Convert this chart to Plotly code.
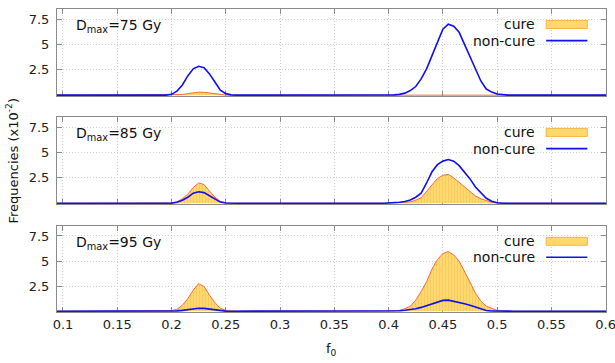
import plotly.graph_objects as go

# f0 bin centres around the two peaks (histogram is empty elsewhere)
F0_LOW = [0.195, 0.200, 0.205, 0.210, 0.215, 0.220, 0.225, 0.230, 0.235,
          0.240, 0.245, 0.250, 0.255, 0.260]
F0_HIGH = [0.395, 0.400, 0.405, 0.410, 0.415, 0.420, 0.425, 0.430, 0.435,
           0.440, 0.445, 0.450, 0.455, 0.460, 0.465, 0.470, 0.475, 0.480,
           0.485, 0.490, 0.495, 0.500, 0.505, 0.510, 0.515]
F0_EDGES = [0.09, 0.61]

DOSES = ["75", "85", "95"]

# Dmax = 75 Gy
CURE_75_LOW = [0, 0, 0.02, 0.06, 0.15, 0.25, 0.30, 0.28, 0.20, 0.10, 0.04, 0.01, 0, 0]
NONCURE_75_LOW = [0, 0.08, 0.40, 1.00, 1.90, 2.60, 2.85, 2.70, 2.10, 1.30, 0.50, 0.15, 0.03, 0]
CURE_75_HIGH = [0, 0, 0, 0.01, 0.02, 0.03, 0.04, 0.05, 0.05, 0.06, 0.06, 0.06, 0.06,
                0.06, 0.05, 0.05, 0.04, 0.03, 0.02, 0.01, 0.01, 0, 0, 0, 0]
NONCURE_75_HIGH = [0, 0.01, 0.03, 0.08, 0.20, 0.45, 0.85, 1.60, 2.60, 3.90, 5.30, 6.50,
                   7.00, 6.80, 6.20, 5.00, 3.80, 2.50, 1.40, 0.60, 0.30, 0.12, 0.04, 0, 0]

# Dmax = 85 Gy
CURE_85_LOW = [0, 0.03, 0.15, 0.45, 0.90, 1.55, 2.00, 1.85, 1.20, 0.60, 0.20, 0.05, 0.01, 0]
NONCURE_85_LOW = [0, 0.02, 0.10, 0.30, 0.60, 1.00, 1.13, 1.05, 0.75, 0.40, 0.12, 0.03, 0, 0]
CURE_85_HIGH = [0, 0.01, 0.03, 0.06, 0.10, 0.15, 0.30, 0.55, 1.15, 1.85, 2.45, 2.75,
                2.85, 2.50, 2.05, 1.55, 1.10, 0.72, 0.45, 0.25, 0.10, 0.04, 0.01, 0, 0]
NONCURE_85_HIGH = [0, 0.02, 0.05, 0.10, 0.18, 0.32, 0.60, 1.00, 2.00, 3.10, 3.80, 4.15,
                   4.30, 4.15, 3.70, 3.10, 2.40, 1.60, 1.00, 0.50, 0.20, 0.05, 0.01, 0, 0]

# Dmax = 95 Gy
CURE_95_LOW = [0, 0.05, 0.20, 0.60, 1.25, 2.10, 2.75, 2.45, 1.60, 0.85, 0.30, 0.08, 0.02, 0]
NONCURE_95_LOW = [0, 0, 0.03, 0.08, 0.15, 0.25, 0.30, 0.28, 0.20, 0.10, 0.04, 0.01, 0, 0]
CURE_95_HIGH = [0, 0.02, 0.05, 0.08, 0.25, 0.50, 1.10, 1.95, 2.95, 4.20, 5.15, 5.75,
                5.95, 5.60, 5.00, 4.00, 2.90, 1.80, 1.00, 0.50, 0.25, 0.08, 0.02, 0, 0]
NONCURE_95_HIGH = [0, 0, 0.02, 0.05, 0.10, 0.15, 0.25, 0.38, 0.55, 0.72, 0.90, 1.08,
                   1.10, 1.00, 0.88, 0.75, 0.60, 0.40, 0.20, 0.07, 0.02, 0, 0, 0, 0]

CURE = {"75": (CURE_75_LOW, CURE_75_HIGH),
        "85": (CURE_85_LOW, CURE_85_HIGH),
        "95": (CURE_95_LOW, CURE_95_HIGH)}
NONCURE = {"75": (NONCURE_75_LOW, NONCURE_75_HIGH),
           "85": (NONCURE_85_LOW, NONCURE_85_HIGH),
           "95": (NONCURE_95_LOW, NONCURE_95_HIGH)}

X_TICKS = [0.1, 0.15, 0.2, 0.25, 0.3, 0.35, 0.4, 0.45, 0.5, 0.55, 0.6]
X_TICK_TEXT = ["0.1", "0.15", "0.2", "0.25", "0.3", "0.35", "0.4", "0.45", "0.5", "0.55", "0.6"]
Y_TICKS = [2.5, 5, 7.5]
Y_TICK_TEXT = ["2.5", "5", "7.5"]

FONT = "DejaVu Sans"
BLUE = "#1010f0"
CURE_FILL = "#ffd86e"
CURE_STRIPE = "#f4b548"
CURE_EDGE = "#ff6a3d"
FRAME = "#8a8a8a"

# panel geometry (fractions of the plotting area)
DOMAINS = [(0.713, 1.0), (0.356, 0.644), (0.0, 0.284)]

fig = go.Figure()


def full_series(low, high):
    xs = [F0_EDGES[0]] + F0_LOW + F0_HIGH + [F0_EDGES[1]]
    ys = [0] + list(low) + list(high) + [0]
    return xs, ys


for i, dose in enumerate(DOSES):
    n = i + 1
    xa = "x" if n == 1 else f"x{n}"
    ya = "y" if n == 1 else f"y{n}"

    cx, cy = full_series(*CURE[dose])
    fig.add_trace(go.Scatter(
        x=cx, y=cy, xaxis=xa, yaxis=ya, mode="lines",
        line=dict(color=CURE_EDGE, width=1),
        fill="tozeroy", fillcolor=CURE_FILL,
        fillpattern=dict(shape="|", bgcolor=CURE_FILL, fgcolor=CURE_STRIPE,
                         size=3, solidity=0.25),
        showlegend=False, hoverinfo="skip"))

    nx, ny = full_series(*NONCURE[dose])
    fig.add_trace(go.Scatter(
        x=nx, y=ny, xaxis=xa, yaxis=ya, mode="lines",
        line=dict(color=BLUE, width=1.6),
        showlegend=False, hoverinfo="skip"))

    axis_common = dict(
        showline=True, linecolor=FRAME, linewidth=1, mirror="ticks",
        ticks="inside", ticklen=5, tickcolor=FRAME, tickwidth=1,
        showgrid=True, gridcolor="#cfcfcf", griddash="1px,2px", gridwidth=1,
        zeroline=False, layer="below traces", automargin=False,
        tickfont=dict(family=FONT, size=13, color="#222"),
    )
    xkey = "xaxis" if n == 1 else f"xaxis{n}"
    ykey = "yaxis" if n == 1 else f"yaxis{n}"
    fig.update_layout({
        xkey: dict(axis_common, range=[0.0945, 0.6003], tickvals=X_TICKS,
                   ticktext=X_TICK_TEXT, showticklabels=(n == 3),
                   ticklabeloverflow="allow",
                   anchor=ya, domain=[0, 1], matches=None if n == 1 else "x"),
        ykey: dict(axis_common, range=[-0.08, 8.5], tickvals=Y_TICKS,
                   ticktext=Y_TICK_TEXT, anchor=xa, domain=list(DOMAINS[i]),
                   ticklabelstandoff=4),
    })

    xd = f"{xa} domain"
    yd = f"{ya} domain"
    # panel label
    fig.add_annotation(xref=xd, yref=yd, x=0.031, y=0.80, xanchor="left",
                       yanchor="middle", showarrow=False,
                       text=f"D<sub>max</sub>={dose} Gy",
                       font=dict(family=FONT, size=14, color="#111"))
    # key
    fig.add_annotation(xref=xd, yref=yd, x=0.874, y=0.822, xanchor="right",
                       yanchor="middle", showarrow=False, text="cure",
                       font=dict(family=FONT, size=14, color="#111"))
    fig.add_annotation(xref=xd, yref=yd, x=0.874, y=0.636, xanchor="right",
                       yanchor="middle", showarrow=False, text="non-cure",
                       font=dict(family=FONT, size=14, color="#111"))
    fig.add_shape(type="rect", xref=xd, yref=yd, x0=0.891, x1=0.966,
                  y0=0.776, y1=0.868, fillcolor=CURE_FILL,
                  line=dict(color="#f5b642", width=1))
    fig.add_shape(type="line", xref=xd, yref=yd, x0=0.891, x1=0.966,
                  y0=0.636, y1=0.636, line=dict(color=BLUE, width=1.6))

fig.add_annotation(xref="paper", yref="paper", x=-0.082, y=0.5,
                   xanchor="center", yanchor="middle", showarrow=False,
                   textangle=-90, text="Frequencies (x10<sup>-2</sup>)",
                   font=dict(family=FONT, size=13, color="#111"))
fig.add_annotation(xref="paper", yref="paper", x=0.5, y=-0.125,
                   xanchor="center", yanchor="middle", showarrow=False,
                   text="f<sub>0</sub>",
                   font=dict(family=FONT, size=13, color="#111"))

fig.update_layout(
    width=615, height=363,
    margin=dict(l=57, r=9, t=9, b=51, autoexpand=False),
    paper_bgcolor="white", plot_bgcolor="white",
    showlegend=False,
)

fig.write_html("out.html")
